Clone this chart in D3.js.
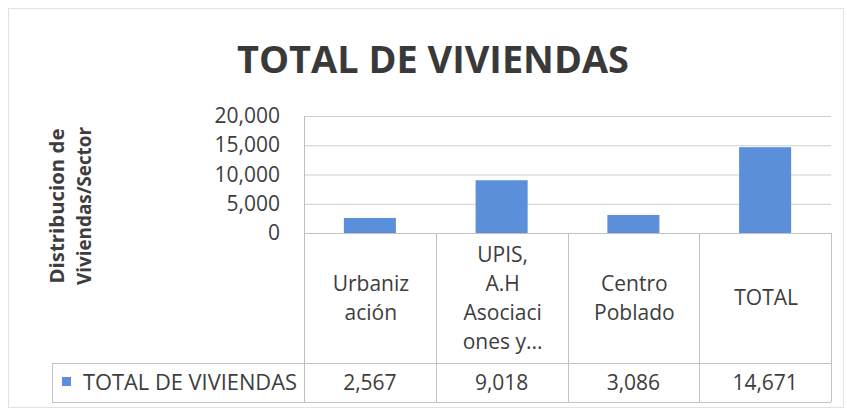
<!DOCTYPE html>
<html>
<head>
<meta charset="utf-8">
<script src="https://cdn.jsdelivr.net/npm/d3@7"></script>
<style>
  body { margin: 0; background: #fff; }
  text { font-family: 'Open Sans', sans-serif; fill: #3d3d3d; }
</style>
</head>
<body>
<div id="chart"></div>
<script>
(function(d3) {
    'use strict';

    // data
    var categories = ['Urbanización', 'UPIS, A.H Asociaciones y...', 'Centro Poblado', 'TOTAL'];
    var categoryLines = [['Urbaniz', 'ación'], ['UPIS,', 'A.H', 'Asociaci', 'ones y...'], ['Centro', 'Poblado'], ['TOTAL']];
    var viviendas = [2567, 9018, 3086, 14671];
    var yTicks = [0, 5000, 10000, 15000, 20000];
    var seriesName = 'TOTAL DE VIVIENDAS';
    var titleLines = ['Distribucion de', 'Viviendas/Sector'];

    var width = 847;
    var height = 412;
    var plotLeft = 304, plotRight = 831;
    var plotTop = 116, plotBottom = 233;
    var rowSplit = 363, tableBottom = 402;
    var legendLeft = 52;
    var lineHeight = 29;
    var barColor = '#5b8fda';
    var gridColor = '#cfcfcf';

    var svg = d3.select('#chart')
      .append('svg')
      .attr('width', width)
      .attr('height', height);

    // faint chart border
    svg.append('rect')
      .attr('x', 8.5).attr('y', 8.5)
      .attr('width', width - 12).attr('height', height - 13)
      .attr('fill', 'none')
      .attr('stroke', '#e2e2e2');

    svg.append('text')
      .attr('x', 433)
      .attr('y', 73)
      .attr('text-anchor', 'middle')
      .attr('textLength', 392)
      .attr('lengthAdjust', 'spacingAndGlyphs')
      .style('font-size', '38px')
      .style('font-weight', 'bold')
      .style('fill', '#393939')
      .text(seriesName);

    var x = d3.scaleBand()
      .domain(categories)
      .range([plotLeft, plotRight]);

    var y = d3.scaleLinear()
      .domain([0, 20000])
      .range([plotBottom, plotTop]);

    // gridlines + tick labels
    var yAxis = svg.append('g')
      .attr('transform', 'translate(' + plotLeft + ',0)')
      .call(d3.axisLeft(y)
        .tickValues(yTicks)
        .tickSize(-(plotRight - plotLeft))
        .tickPadding(24)
        .tickFormat(d3.format(',')));

    yAxis.select('.domain').remove();
    yAxis.selectAll('line').attr('stroke', gridColor);
    yAxis.selectAll('text')
      .style('font-size', '21px')
      .style('font-family', "'Open Sans', sans-serif")
      .attr('fill', '#3d3d3d');

    // value axis line
    svg.append('line')
      .attr('x1', plotLeft + 0.5).attr('x2', plotLeft + 0.5)
      .attr('y1', plotTop).attr('y2', tableBottom)
      .attr('stroke', '#bdbdbd');

    var barWidth = x.bandwidth() * 0.395;

    svg.selectAll('.bar')
      .data(viviendas)
      .enter()
      .append('rect')
      .attr('class', 'bar')
      .attr('x', function(d, i) { return x(categories[i]) + (x.bandwidth() - barWidth) / 2; })
      .attr('y', function(d) { return y(d); })
      .attr('width', barWidth)
      .attr('height', function(d) { return y(0) - y(d); })
      .attr('fill', barColor);

    // data table grid
    var table = svg.append('g').attr('stroke', '#c2c2c2').attr('fill', 'none');

    table.append('line')
      .attr('x1', plotLeft).attr('x2', plotRight)
      .attr('y1', plotBottom + 0.5).attr('y2', plotBottom + 0.5);
    table.append('line')
      .attr('x1', legendLeft).attr('x2', plotRight)
      .attr('y1', rowSplit + 0.5).attr('y2', rowSplit + 0.5);
    table.append('line')
      .attr('x1', legendLeft).attr('x2', plotRight)
      .attr('y1', tableBottom + 0.5).attr('y2', tableBottom + 0.5);
    table.append('line')
      .attr('x1', legendLeft + 0.5).attr('x2', legendLeft + 0.5)
      .attr('y1', rowSplit).attr('y2', tableBottom);

    table.selectAll('.col')
      .data(categories)
      .enter()
      .append('line')
      .attr('class', 'col')
      .attr('x1', function(d) { return Math.round(x(d) + x.bandwidth()) + 0.5; })
      .attr('x2', function(d) { return Math.round(x(d) + x.bandwidth()) + 0.5; })
      .attr('y1', plotBottom)
      .attr('y2', tableBottom);

    // category labels
    var rowMid = (plotBottom + rowSplit) / 2;

    var cat = svg.selectAll('.cat')
      .data(categoryLines)
      .enter()
      .append('text')
      .attr('class', 'cat')
      .attr('text-anchor', 'middle')
      .style('font-size', '21px');

    cat.each(function(lines, i) {
      var t = d3.select(this);
      lines.forEach(function(line, j) {
        t.append('tspan')
          .attr('x', x(categories[i]) + x.bandwidth() / 2 + 1)
          .attr('y', rowMid + (j - (lines.length - 1) / 2) * lineHeight + 7)
          .text(line);
      });
    });

    // value row
    svg.selectAll('.val')
      .data(viviendas)
      .enter()
      .append('text')
      .attr('class', 'val')
      .attr('x', function(d, i) { return x(categories[i]) + x.bandwidth() / 2; })
      .attr('y', 390)
      .attr('text-anchor', 'middle')
      .style('font-size', '21px')
      .text(d3.format(','));

    // legend key
    svg.append('rect')
      .attr('x', 62).attr('y', 377)
      .attr('width', 9).attr('height', 9)
      .attr('fill', barColor);

    svg.append('text')
      .attr('x', 83)
      .attr('y', 390)
      .attr('textLength', 214)
      .attr('lengthAdjust', 'spacingAndGlyphs')
      .style('font-size', '21px')
      .text(seriesName);

    // axis title, two lines rotated
    svg.selectAll('.ytitle')
      .data(titleLines)
      .enter()
      .append('text')
      .attr('class', 'ytitle')
      .attr('text-anchor', 'middle')
      .attr('transform', function(d, i) {
        return 'translate(' + (64 + i * 27) + ',206) rotate(-90)';
      })
      .attr('textLength', function(d, i) { return i ? 158 : 155; })
      .attr('lengthAdjust', 'spacingAndGlyphs')
      .style('font-size', '20px')
      .style('font-weight', 'bold')
      .text(function(d) { return d; });

})(window.d3);
</script>
</body>
</html>
